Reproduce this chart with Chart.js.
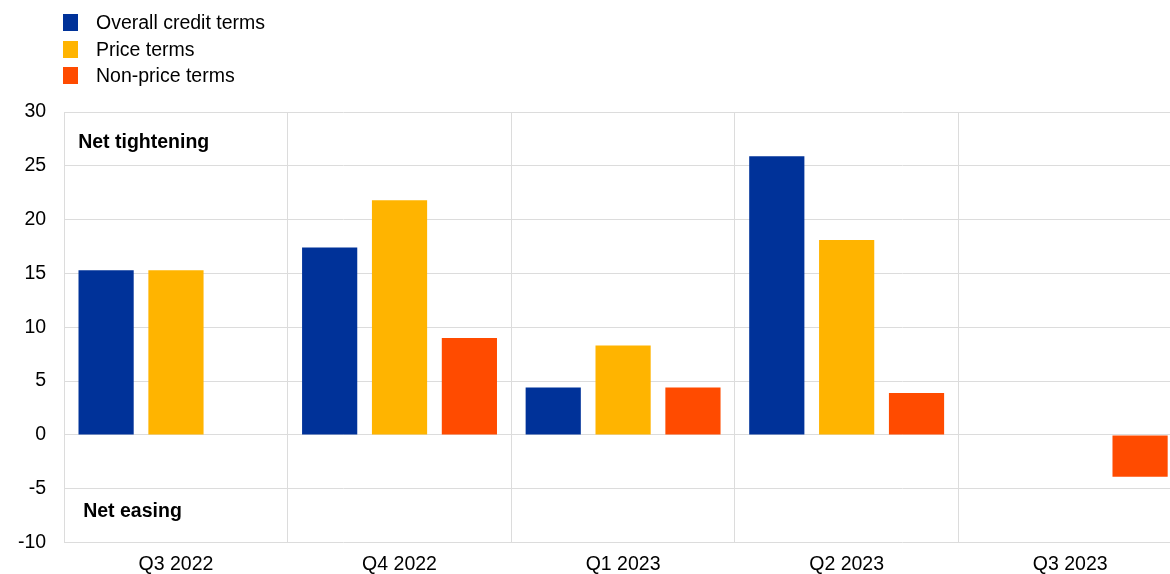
<!DOCTYPE html>
<html lang="en">
<head>
<meta charset="UTF-8">
<title>Credit terms</title>
<script src="https://cdn.jsdelivr.net/npm/chart.js"></script>
<style>
  html,body{margin:0;padding:0;background:#fff;font-family:'Liberation Sans',Arial,sans-serif;overflow:hidden;}
  #wrap{position:relative;width:1170px;height:574px;overflow:hidden;}
  #legend{position:absolute;left:63px;top:9px;font-size:19.5px;color:#000;}
  #legend div{height:26.8px;display:flex;align-items:center;}
  #legend span.box{display:inline-block;width:15px;height:17px;margin-right:18px;}
  canvas{position:absolute;left:0;top:0;}
</style>
</head>
<body>
<div id="wrap">
  <canvas id="chart" width="1183" height="586"></canvas>
  <div id="legend"></div>
</div>
<script>
// categories and series (net percentages of banks)
const categories = ['Q3 2022','Q4 2022','Q1 2023','Q2 2023','Q3 2023'];
const overallTerms = [15.3, 17.4, 4.4, 25.9, null];
const priceTerms   = [15.3, 21.8, 8.3, 18.1, null];
const nonPriceTerms = [null, 9.0, 4.4, 3.9, -3.9];
const seriesNames = ['Overall credit terms','Price terms','Non-price terms'];
const colours = ['#003299','#FFB400','#FF4B00'];

const legend = document.getElementById('legend');
seriesNames.forEach((n,i)=>{
  const row=document.createElement('div');
  row.innerHTML=`<span class="box" style="background:${colours[i]}"></span>${n}`;
  legend.appendChild(row);
});

// "Net tightening" / "Net easing" labels
const notes = {
  id:'notes',
  afterDraw(c){
    const {ctx, scales:{y}} = c;
    ctx.save();
    ctx.font = 'bold 19.5px "Liberation Sans", Arial, sans-serif';
    ctx.fillStyle = '#000';
    ctx.textBaseline = 'middle';
    ctx.fillText('Net tightening', c.chartArea.left+14, y.getPixelForValue(27.2));
    ctx.fillText('Net easing', c.chartArea.left+19, y.getPixelForValue(-7.1));
    ctx.restore();
  }
};

Chart.defaults.font.family = '"Liberation Sans", Arial, sans-serif';
Chart.defaults.font.size = 19.5;
Chart.defaults.color = '#000';

new Chart(document.getElementById('chart'),{
  type:'bar',
  data:{
    labels:categories,
    datasets:[
      {label:seriesNames[0],data:overallTerms,backgroundColor:colours[0]},
      {label:seriesNames[1],data:priceTerms,backgroundColor:colours[1]},
      {label:seriesNames[2],data:nonPriceTerms,backgroundColor:colours[2]}
    ]
  },
  options:{
    responsive:false,
    animation:false,
    layout:{padding:{top:112,right:1,left:0,bottom:0}},
    datasets:{bar:{categoryPercentage:0.9375,barPercentage:0.79}},
    plugins:{legend:{display:false},tooltip:{enabled:false}},
    scales:{
      x:{
        grid:{offset:true,color:'#dcdcdc',lineWidth:1,drawTicks:false},
        border:{display:false},
        ticks:{padding:12,font:{lineHeight:1}}
      },
      y:{
        min:-10,max:30,
        ticks:{stepSize:5,padding:18,font:{lineHeight:1}},
        grid:{color:'#dcdcdc',drawTicks:false},
        border:{display:false}
      }
    }
  },
  plugins:[notes]
});
</script>
</body>
</html>
